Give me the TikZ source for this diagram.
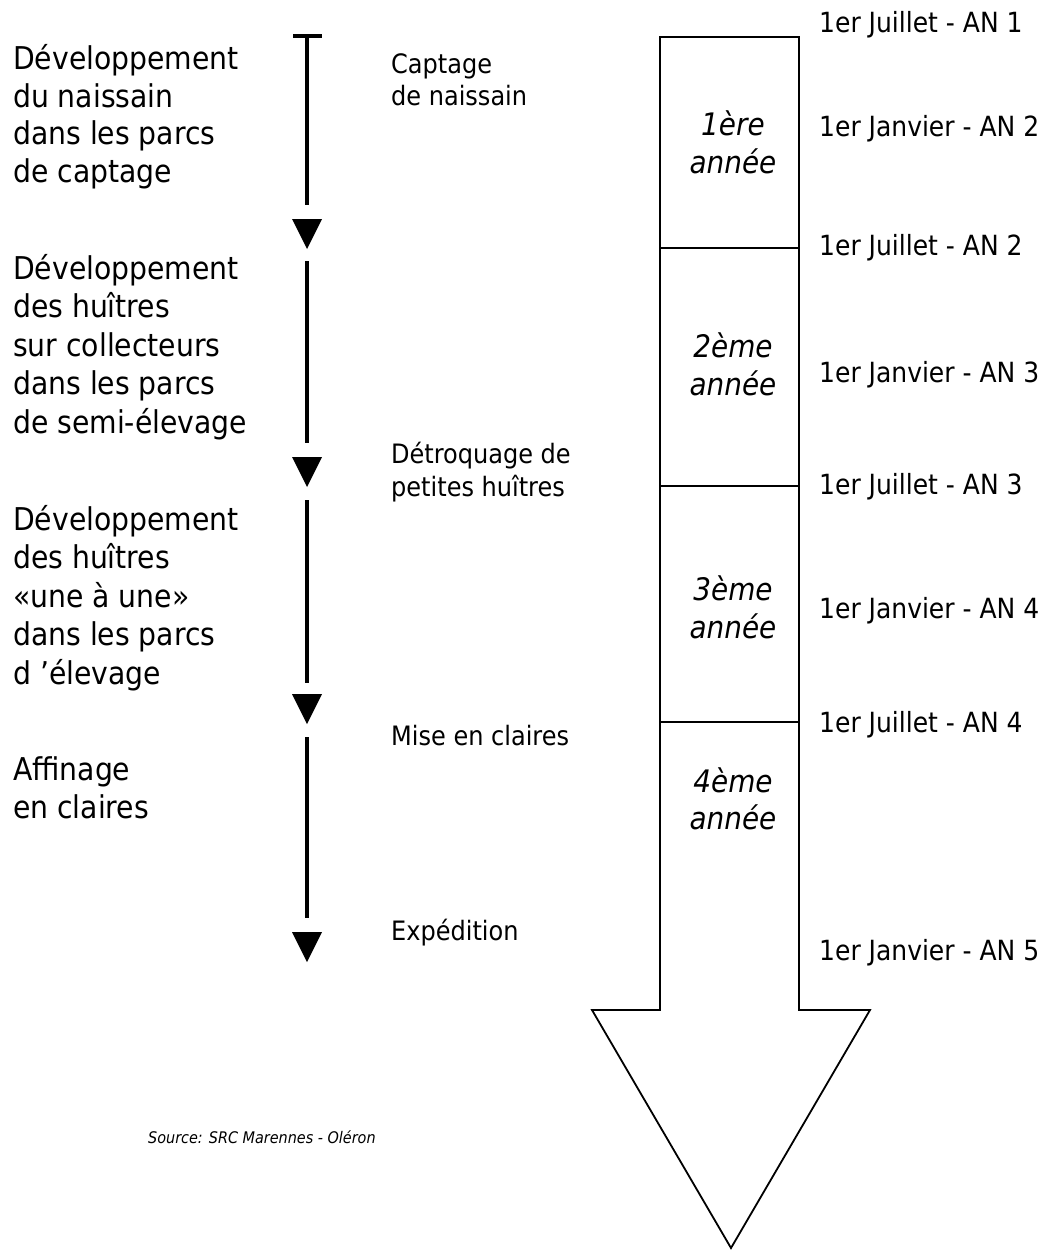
\documentclass[tikz,border=0pt]{standalone}
\usepackage{fontspec}
\setmainfont{DejaVu Sans Condensed}
\begin{document}
\begin{tikzpicture}[x=1pt,y=-1pt,
  phase/.style={font=\fontsize{31.4}{37}\selectfont, anchor=base west, inner sep=0pt},
  event/.style={font=\fontsize{26.7}{31}\selectfont, anchor=base west, inner sep=0pt},
  date/.style={font=\fontsize{27.8}{31}\selectfont, anchor=base west, inner sep=0pt},
  year/.style={font=\fontsize{31}{37}\selectfont\itshape, anchor=base, inner sep=0pt},
  source/.style={font=\fontsize{16}{19}\selectfont\itshape, anchor=base west, inner sep=0pt},
  stem/.style={line width=4pt},
  tipmark/.style={fill=black},
  outline/.style={line width=1.8pt, line join=miter},
  divider/.style={line width=1.5pt}]

\useasboundingbox (0,0) rectangle (1048,1253);

% ---- phases, left column ----
\node[phase] (p1a) at (13,69.5) {Développement};
\node[phase] (p1b) at (13,107) {du naissain};
\node[phase] (p1c) at (13,144.5) {dans les parcs};
\node[phase] (p1d) at (13,182) {de captage};

\node[phase] (p2a) at (13,279) {Développement};
\node[phase] (p2b) at (13,317.5) {des huîtres};
\node[phase] (p2c) at (13,356) {sur collecteurs};
\node[phase] (p2d) at (13,394.5) {dans les parcs};
\node[phase] (p2e) at (13,433) {de semi-élevage};

\node[phase] (p3a) at (13,530) {Développement};
\node[phase] (p3b) at (13,568.5) {des huîtres};
\node[phase] (p3c) at (13,607) {«une à une»};
\node[phase] (p3d) at (13,645.5) {dans les parcs};
\node[phase] (p3e) at (13,684) {d 'élevage};

\node[phase] (p4a) at (13,780) {Affinage};
\node[phase] (p4b) at (13,818.5) {en claires};

% ---- timeline with stop bar and arrow marks ----
\coordinate (s1a) at (307,36);  \coordinate (s1b) at (307,205);
\coordinate (s2a) at (307,261); \coordinate (s2b) at (307,443);
\coordinate (s3a) at (307,500); \coordinate (s3b) at (307,683);
\coordinate (s4a) at (307,737); \coordinate (s4b) at (307,918);
\coordinate (barL) at (293,36); \coordinate (barR) at (322,36);
\draw[stem] (barL) -- (barR);
\draw[stem] (s1a) -- (s1b);
\draw[stem] (s2a) -- (s2b);
\draw[stem] (s3a) -- (s3b);
\draw[stem] (s4a) -- (s4b);
\foreach \t in {219,457,694,932}
  \fill[tipmark] (292,\t) -- (322,\t) -- (307,\t+30) -- cycle;

% ---- events, middle column ----
\node[event] (e1a) at (391,73) {Captage};
\node[event] (e1b) at (391,105.5) {de naissain};
\node[event] (e2a) at (391,463) {Détroquage de};
\node[event] (e2b) at (391,496.5) {petites huîtres};
\node[event] (e3) at (391,745) {Mise en claires};
\node[event] (e4) at (391,940) {Expédition};

% ---- big arrow of years ----
\draw[outline] (660,37) -- (799,37) -- (799,1010) -- (870,1010)
  -- (731,1248) -- (592,1010) -- (660,1010) -- cycle;
\coordinate (d1L) at (660,248); \coordinate (d1R) at (799,248);
\coordinate (d2L) at (660,486); \coordinate (d2R) at (799,486);
\coordinate (d3L) at (660,722); \coordinate (d3R) at (799,722);
\draw[divider] (d1L) -- (d1R);
\draw[divider] (d2L) -- (d2R);
\draw[divider] (d3L) -- (d3R);

\node[year] (y1a) at (733,135) {1ère};
\node[year] (y1b) at (733,173) {année};
\node[year] (y2a) at (733,357) {2ème};
\node[year] (y2b) at (733,395) {année};
\node[year] (y3a) at (733,600) {3ème};
\node[year] (y3b) at (733,638) {année};
\node[year] (y4a) at (733,792) {4ème};
\node[year] (y4b) at (733,829) {année};

% ---- dates, right column ----
\node[date] (j1) at (819,32)  {1er Juillet - AN 1};
\node[date] (n2) at (819,136) {1er Janvier - AN 2};
\node[date] (j2) at (819,255) {1er Juillet - AN 2};
\node[date] (n3) at (819,382) {1er Janvier - AN 3};
\node[date] (j3) at (819,494) {1er Juillet - AN 3};
\node[date] (n4) at (819,618) {1er Janvier - AN 4};
\node[date] (j4) at (819,732) {1er Juillet - AN 4};
\node[date] (n5) at (819,960) {1er Janvier - AN 5};

% ---- source ----
\node[source] (src) at (148,1143) {Source: SRC Marennes - Oléron};
\end{tikzpicture}
\end{document}
